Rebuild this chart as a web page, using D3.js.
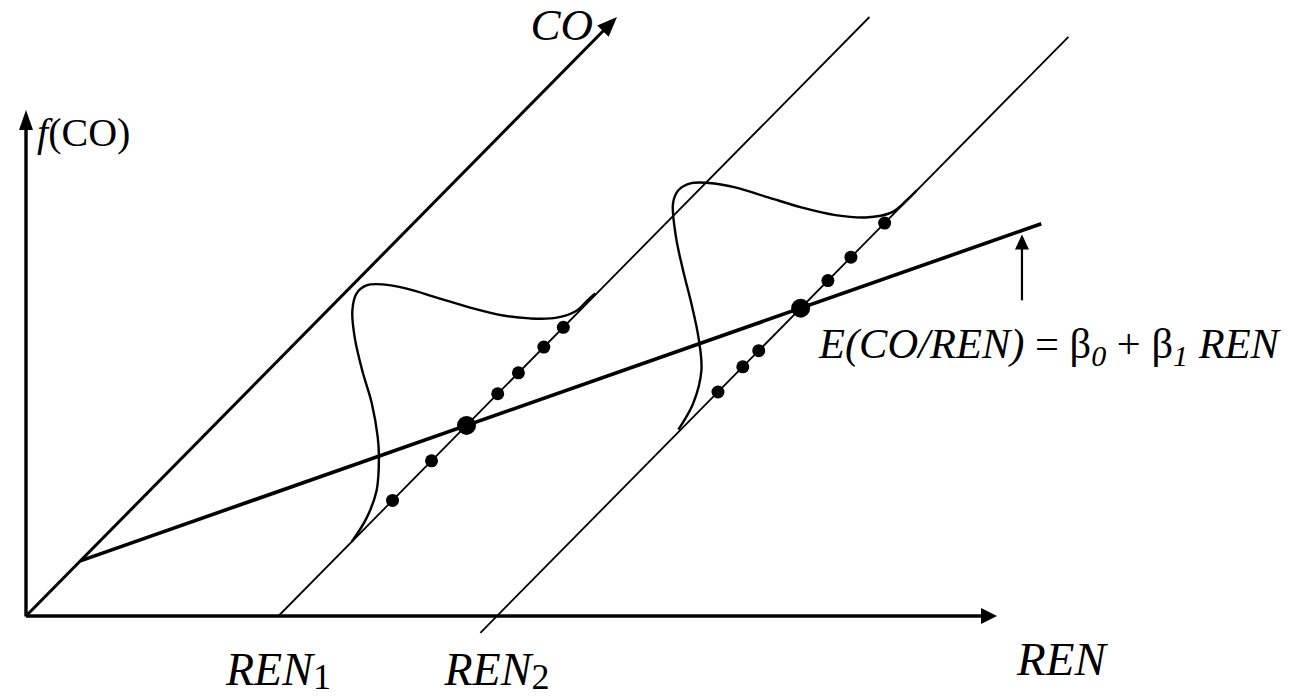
<!DOCTYPE html>
<html>
<head>
<meta charset="utf-8">
<script src="https://cdn.jsdelivr.net/npm/d3@7"></script>
<style>
  body { margin: 0; background: #fff; }
  svg { display: block; }
  text { font-family: "Liberation Serif", "Times New Roman", serif; fill: #000; }
</style>
</head>
<body>
<div id="chart"></div>
<script>
// conditional slices (REN values) and the CO range of each guide line
const renLevels = [2.6, 4.85];
const renSubs = ['1', '2'];
const renLineCO = [[0, 10], [-0.28, 9.67]];

// population regression E(CO|REN) = b0 + b1 REN
const beta0 = 0.92;
const beta1 = 0.87;
const regREN = [0, 6.47];
const pointerREN = 6.34;

// observed CO values at each REN (mean dot drawn separately)
const obsCO1 = [1.93, 2.59, 3.71, 4.06, 4.49, 4.82];
const obsCO2 = [3.74, 4.16, 4.43, 5.6, 5.99, 6.56];

// density f(CO) at each slice, as [co, f] pairs
const density1 = [
  [1.24, 0], [1.49, 0.17], [1.66, 0.51], [1.7, 1.12], [1.68, 1.54], [1.58, 2.33],
  [1.42, 3.16], [1.29, 3.98], [1.25, 4.55], [1.32, 4.81], [1.49, 4.77], [1.76, 4.47],
  [2.17, 3.9], [2.68, 3.12], [3.24, 2.26], [3.8, 1.44], [4.25, 0.85], [4.71, 0.32],
  [5.05, 0.06], [5.22, 0.05], [5.36, 0.03]
];
const density2 = [
  [3.07, 0.05], [3.32, 0.27], [3.46, 0.76], [3.41, 1.47], [3.29, 2.28], [3.15, 3.1],
  [3.03, 3.9], [2.98, 4.63], [3.07, 4.78], [3.29, 4.66], [3.58, 4.32], [4.03, 3.7],
  [4.59, 2.84], [5.15, 1.98], [5.73, 1.14], [6.24, 0.49], [6.68, 0.07], [6.92, 0.01],
  [7.1, 0]
];

const width = 1297;
const height = 699;
const origin = { x: 26, y: 616 };

const renScale = d3.scaleLinear().domain([0, 10]).range([0, 971]);
const coX = d3.scaleLinear().domain([0, 10]).range([0, 591]);
const coY = d3.scaleLinear().domain([0, 10]).range([0, 599]);
const fScale = d3.scaleLinear().domain([0, 10]).range([0, 506]);

// oblique projection of (REN, CO, f) onto the page
const proj = (r, c, f = 0) => [origin.x + renScale(r) + coX(c), origin.y - coY(c) - fScale(f)];
const reg = (r) => beta0 + beta1 * r;

const svg = d3.select('#chart')
  .append('svg')
  .attr('width', width)
  .attr('height', height);

function arrowHead(from, tip, len, half) {
  const dx = tip[0] - from[0], dy = tip[1] - from[1];
  const d = Math.hypot(dx, dy);
  const ux = dx / d, uy = dy / d;
  const bx = tip[0] - ux * len, by = tip[1] - uy * len;
  return [tip, [bx - uy * half, by + ux * half], [bx + uy * half, by - ux * half]];
}

function drawArrow(a, b, w, len, half) {
  const h = arrowHead(a, b, len, half);
  const d = Math.hypot(b[0] - a[0], b[1] - a[1]);
  const base = [b[0] - (b[0] - a[0]) / d * (len - 2), b[1] - (b[1] - a[1]) / d * (len - 2)];
  svg.append('line')
    .attr('x1', a[0]).attr('y1', a[1]).attr('x2', base[0]).attr('y2', base[1])
    .style('stroke', '#000').style('stroke-width', w);
  svg.append('polygon')
    .attr('points', h.map((p) => p.join(',')).join(' '))
    .style('fill', '#000');
}

// axes
drawArrow(proj(0, 0), proj(10, 0), 3.6, 16, 8);
drawArrow(proj(0, 0, -0.01), proj(0, 0, 10), 3.4, 20, 7);
drawArrow(proj(0, 0), proj(0, 10), 3, 20, 8);

// guide lines at REN1, REN2
svg.selectAll('.renline')
  .data(renLevels)
  .enter()
  .append('line')
  .attr('class', 'renline')
  .attr('x1', (d, i) => proj(d, renLineCO[i][0])[0])
  .attr('y1', (d, i) => proj(d, renLineCO[i][0])[1])
  .attr('x2', (d, i) => proj(d, renLineCO[i][1])[0])
  .attr('y2', (d, i) => proj(d, renLineCO[i][1])[1])
  .style('stroke', '#000')
  .style('stroke-width', '1.8px');

// regression line
const r0 = proj(regREN[0], reg(regREN[0]));
const r1 = proj(regREN[1], reg(regREN[1]));
svg.append('line')
  .attr('x1', r0[0]).attr('y1', r0[1]).attr('x2', r1[0]).attr('y2', r1[1])
  .style('stroke', '#000')
  .style('stroke-width', '3.6px');

// density curves
const densityLine = (r) => d3.line()
  .x((d) => proj(r, d[0], d[1])[0])
  .y((d) => proj(r, d[0], d[1])[1])
  .curve(d3.curveCatmullRom.alpha(0.5));

[density1, density2].forEach((dens, i) => {
  svg.append('path')
    .attr('d', densityLine(renLevels[i])(dens))
    .style('fill', 'none')
    .style('stroke', '#000')
    .style('stroke-width', '2.4px');
});

// observations
[obsCO1, obsCO2].forEach((obs, i) => {
  svg.selectAll('.obs' + i)
    .data(obs)
    .enter()
    .append('circle')
    .attr('class', 'obs' + i)
    .attr('cx', (d) => proj(renLevels[i], d)[0])
    .attr('cy', (d) => proj(renLevels[i], d)[1])
    .attr('r', 6.5)
    .style('fill', '#000');
});

// conditional means on the regression line
svg.selectAll('.mean')
  .data(renLevels)
  .enter()
  .append('circle')
  .attr('class', 'mean')
  .attr('cx', (d) => proj(d, reg(d))[0])
  .attr('cy', (d) => proj(d, reg(d))[1])
  .attr('r', 9.5)
  .style('fill', '#000');

// pointer to the regression line
drawArrow(proj(pointerREN, reg(pointerREN), -1.38), proj(pointerREN, reg(pointerREN), -0.08), 2.2, 15, 7);

// labels
svg.append('text')
  .attr('x', 37).attr('y', 146)
  .style('font-size', '40px')
  .call((t) => {
    t.append('tspan').style('font-style', 'italic').text('f');
    t.append('tspan').text('(CO)');
  });

svg.append('text')
  .attr('x', 593).attr('y', 40)
  .attr('text-anchor', 'end')
  .style('font-size', '45px')
  .style('font-style', 'italic')
  .text('CO');

svg.selectAll('.renlabel')
  .data(renLevels)
  .enter()
  .append('text')
  .attr('class', 'renlabel')
  .attr('x', (d) => proj(d, 0)[0])
  .attr('y', 685)
  .attr('text-anchor', 'middle')
  .style('font-size', '46px')
  .call((t) => {
    t.append('tspan').style('font-style', 'italic').text('REN');
    t.append('tspan').attr('dy', 4).style('font-size', '36px').text((d, i) => renSubs[i]);
  });

svg.append('text')
  .attr('x', 1017).attr('y', 675)
  .style('font-size', '47px')
  .style('font-style', 'italic')
  .text('REN');

svg.append('text')
  .attr('x', 819).attr('y', 358)
  .style('font-size', '42.5px')
  .call((t) => {
    t.append('tspan').style('font-style', 'italic').text('E(CO/REN)');
    t.append('tspan').text(' = β');
    t.append('tspan').attr('dy', 8).style('font-size', '30px').style('font-style', 'italic').text('0');
    t.append('tspan').attr('dy', -8).text(' + β');
    t.append('tspan').attr('dy', 8).style('font-size', '30px').style('font-style', 'italic').text('1');
    t.append('tspan').attr('dy', -8).style('font-style', 'italic').text(' REN');
  });
</script>
</body>
</html>
